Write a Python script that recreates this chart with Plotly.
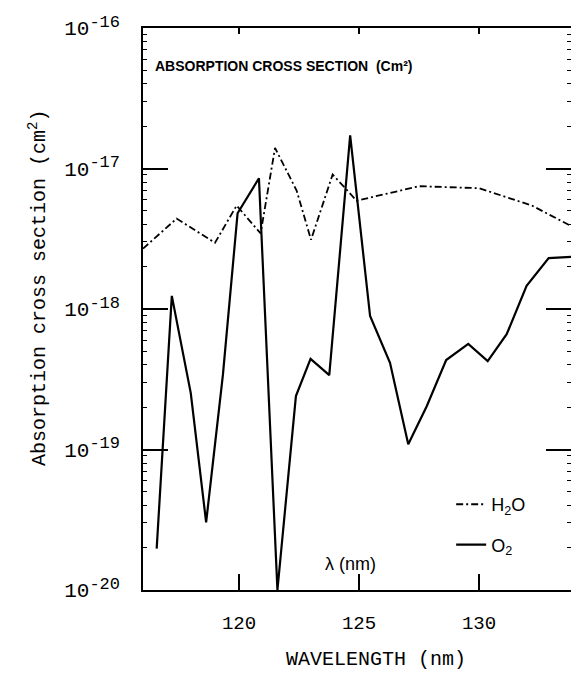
import plotly.graph_objects as go

# H2O absorption cross section (cm^2) vs wavelength (nm)
h2o_wl = [116.0, 117.4, 119.0, 119.9, 120.9, 121.5, 122.4, 123.0, 123.9, 124.9, 127.5, 130.0, 132.2, 133.8]
h2o_xs = [2.69e-18, 4.40e-18, 2.96e-18, 5.45e-18, 3.45e-18, 1.40e-17, 6.97e-18, 3.11e-18, 9.06e-18,
          5.90e-18, 7.48e-18, 7.24e-18, 5.45e-18, 3.92e-18]

# O2 absorption cross section (cm^2) vs wavelength (nm)
o2_wl = [116.57, 117.2, 117.99, 118.63, 119.33, 119.94, 120.83, 121.6, 122.37, 122.98, 123.76, 124.63,
         125.46, 126.29, 127.05, 127.82, 128.63, 129.55, 130.36, 131.15, 131.98, 132.9, 133.83]
o2_xs = [1.97e-20, 1.24e-18, 2.52e-19, 3.03e-20, 3.41e-19, 4.80e-18, 8.53e-18, 1.0e-20, 2.40e-19, 4.42e-19,
         3.38e-19, 1.72e-17, 8.91e-19, 4.14e-19, 1.09e-19, 2.03e-19, 4.33e-19, 5.65e-19, 4.26e-19, 6.61e-19,
         1.46e-18, 2.30e-18, 2.35e-18]

x_ticks = [120, 125, 130]
y_ticks = [1e-20, 1e-19, 1e-18, 1e-17, 1e-16]
y_exponents = ["-20", "-19", "-18", "-17", "-16"]
y_ticktext = ["10<sup><span style='font-size:17px'>%s</span></sup>" % e for e in y_exponents]

MONO = "Liberation Mono"
SANS = "Liberation Sans"
x_range = [116.0, 133.83]

fig = go.Figure()
fig.add_trace(go.Scatter(x=h2o_wl, y=h2o_xs, mode="lines", name="H<sub>2</sub>O", legendgroup="a",
                         line=dict(color="black", width=1.8, dash="7px,3px,2px,3px")))
fig.add_trace(go.Scatter(x=o2_wl, y=o2_xs, mode="lines", name="O<sub>2</sub>", legendgroup="b",
                         line=dict(color="black", width=2.2)))
# helper trace to activate overlay axes (top ticks, left frame line)
fig.add_trace(go.Scatter(x=[], y=[], xaxis="x2", yaxis="y2", showlegend=False, hoverinfo="skip"))

fig.update_layout(
    width=571, height=674,
    margin=dict(l=143, r=0, t=28, b=84),
    paper_bgcolor="white", plot_bgcolor="white",
    showlegend=True,
    legend=dict(x=0.72, y=0.185, xanchor="left", yanchor="top", bgcolor="rgba(0,0,0,0)",
                font=dict(family=SANS, size=18, color="black"), traceorder="grouped",
                tracegroupgap=14),
    xaxis=dict(range=x_range, tickvals=x_ticks, ticks="inside", ticklen=16, tickwidth=2,
               tickcolor="black", showline=True, linecolor="black", linewidth=1.5, mirror=True,
               showgrid=False, zeroline=False, ticklabelstandoff=14,
               tickfont=dict(family=MONO, size=19, color="black")),
    xaxis2=dict(range=x_range, overlaying="x", side="top", tickvals=x_ticks, ticks="inside",
                ticklen=6, tickwidth=1.5, tickcolor="black", showticklabels=False,
                showline=False, showgrid=False, zeroline=False),
    yaxis=dict(type="log", range=[-20, -16], tickvals=y_ticks, ticktext=y_ticktext,
               ticks="inside", ticklen=25, tickwidth=2, tickcolor="black", mirror="ticks",
               showline=False, showgrid=False, zeroline=False, ticklabelstandoff=22,
               tickfont=dict(family=MONO, size=21, color="black"),
               minor=dict(ticks="inside", dtick="D1", ticklen=4, tickwidth=1, tickcolor="black",
                          showgrid=False)),
    yaxis2=dict(type="log", range=[-20, -16], overlaying="y", side="left", anchor="x2",
                showline=True, linecolor="black", linewidth=1.5, ticks="", showticklabels=False,
                showgrid=False, zeroline=False),
    annotations=[
        dict(text="<b>ABSORPTION CROSS SECTION  (Cm²)</b>", xref="paper", yref="paper",
             x=(153 - 143) / 428, y=1 - (66 - 28) / 562, xanchor="left", yanchor="middle",
             showarrow=False, font=dict(family=SANS, size=14, color="black")),
        dict(text="λ (nm)", xref="paper", yref="paper",
             x=(350 - 143) / 428, y=1 - (564 - 28) / 562, xanchor="center", yanchor="middle",
             showarrow=False, font=dict(family=SANS, size=18, color="black")),
        dict(text="Absorption cross section (cm<sup>2</sup>)", xref="paper", yref="paper",
             x=(38 - 143) / 428, y=1 - (288 - 28) / 562, xanchor="center", yanchor="middle",
             textangle=-90, showarrow=False, font=dict(family=MONO, size=20, color="black")),
        dict(text="WAVELENGTH (nm)", xref="paper", yref="paper",
             x=(376 - 143) / 428, y=1 - (659 - 28) / 562, xanchor="center", yanchor="middle",
             showarrow=False, font=dict(family=MONO, size=20, color="black")),
    ],
)

fig.write_html("out.html")
